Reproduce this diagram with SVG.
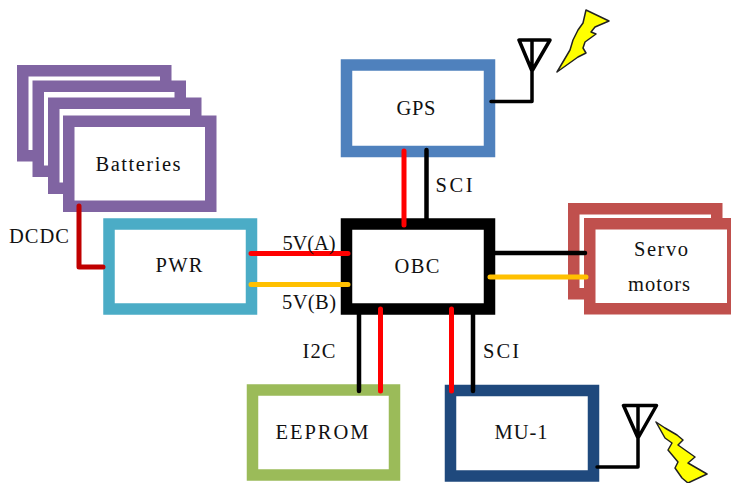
<svg xmlns="http://www.w3.org/2000/svg" width="731" height="483" viewBox="0 0 731 483">
<style>
.b{fill:#fff;stroke-width:11.5;stroke-linejoin:miter}
.t{font-family:"Liberation Serif",serif;font-size:20.500px;fill:#111;text-anchor:middle}
.l{fill:none;stroke-linecap:round;stroke-linejoin:round}
.bolt{fill:#ffff00;stroke:#222;stroke-width:1.500;stroke-linejoin:round}
.p{stroke:#8064a2}.s{stroke:#c0504d}
</style>
<rect width="731" height="483" fill="#fff"/>
<g id="batteries">
<rect class="b p" x="22.75" y="70.75" width="143" height="85"/>
<rect class="b p" x="38.25" y="86.25" width="142" height="85"/>
<rect class="b p" x="53.75" y="103.25" width="142" height="85"/>
<rect class="b p" x="68.75" y="121.25" width="142" height="85"/>
<text class="t" x="138" y="171" textLength="85" lengthAdjust="spacing">Batteries</text>
</g>
<g id="pwr">
<rect x="109" y="224" width="142.500" height="85" class="b" stroke="#4bacc6"/>
<text class="t" x="179" y="272" textLength="47" lengthAdjust="spacing">PWR</text>
</g>
<g id="gps">
<rect x="346.500" y="65" width="143" height="86.500" class="b" stroke="#4f81bd"/>
<text class="t" x="416" y="115" textLength="39" lengthAdjust="spacing">GPS</text>
</g>
<g id="obc">
<rect x="346.500" y="224" width="143" height="85" class="b" stroke="#000"/>
<text class="t" x="417" y="273" textLength="45" lengthAdjust="spacing">OBC</text>
</g>
<g id="servo">
<rect class="b s" x="573.750" y="208.750" width="143" height="85"/>
<rect class="b s" x="589.750" y="223.750" width="143" height="85"/>
<text class="t" x="661" y="256" textLength="54" lengthAdjust="spacing">Servo</text>
<text class="t" x="659" y="291" textLength="62" lengthAdjust="spacing">motors</text>
</g>
<g id="eeprom">
<rect x="252.500" y="390" width="142" height="85" class="b" stroke="#9bbb59"/>
<text class="t" x="322" y="439" textLength="93" lengthAdjust="spacing">EEPROM</text>
</g>
<g id="mu1">
<rect x="450.500" y="390.500" width="143" height="85.500" class="b" stroke="#1f497d"/>
<text class="t" x="521" y="439" textLength="53" lengthAdjust="spacing">MU-1</text>
</g>
<g id="connectors">
<path class="l" stroke="#c00000" stroke-width="5" d="M79 206V267H103"/>
<path class="l" stroke="#f00" stroke-width="5" d="M251 253.500H348M404 151V225M380.500 309V391M451.500 309V391"/>
<path class="l" stroke="#ffc000" stroke-width="5" d="M251 284.500H348M490 277H586"/>
<path class="l" stroke="#000" stroke-width="4.500" d="M426.500 150V220M495 253H585M359 314V391M473 314V391"/>
<path class="l" stroke="#000" stroke-width="3.500" d="M491 101.500H532V40M519 40H550L532 71ZM597 467H638V405.500M623.500 405.500H656.500L638 438Z"/>
</g>
<g id="antenna-bolts">
<polygon class="bolt" points="586,10 609,21 595,27 591,32 596,34 585,42 583,48 586,53 578,57 557,72 570,50 573,40 578,30 583,23"/>
<polygon class="bolt" points="656,422 665,428 677,435 683,440 678,445 695,457 688,463 707,474 688,483 682,478 675,468 678,462 668,450 672,443 665,438"/>
</g>
<g id="labels">
<text class="t" x="39" y="243" textLength="60" lengthAdjust="spacing">DCDC</text>
<text class="t" x="454" y="192" textLength="37" lengthAdjust="spacing">SCI</text>
<text class="t" x="309" y="250" textLength="53" lengthAdjust="spacing">5V(A)</text>
<text class="t" x="309" y="309" textLength="54" lengthAdjust="spacing">5V(B)</text>
<text class="t" x="319" y="358" textLength="33" lengthAdjust="spacing">I2C</text>
<text class="t" x="501" y="358" textLength="36" lengthAdjust="spacing">SCI</text>
</g>
</svg>
